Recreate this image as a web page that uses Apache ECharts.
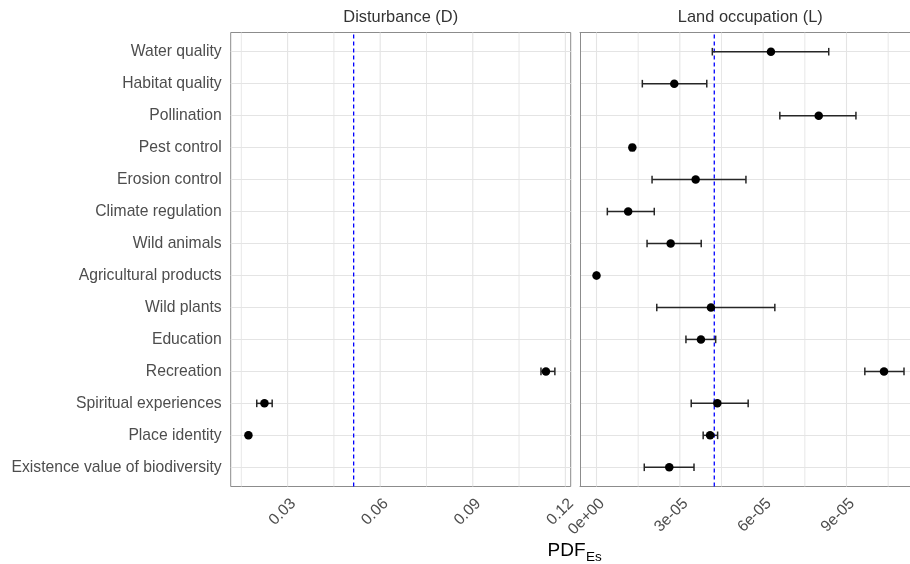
<!DOCTYPE html>
<html>
<head>
<meta charset="utf-8">
<script src="https://cdn.jsdelivr.net/npm/echarts@6/dist/echarts.min.js"></script>
<style>
html,body{margin:0;padding:0;background:#fff;}
#c{width:910px;height:564px;}
</style>
</head>
<body>
<div id="c"></div>
<script>
const categories = ["Water quality","Habitat quality","Pollination","Pest control","Erosion control","Climate regulation","Wild animals","Agricultural products","Wild plants","Education","Recreation","Spiritual experiences","Place identity","Existence value of biodiversity"];

// Disturbance (D)
const dMean = [null,null,null,null,null,null,null,null,null,null,0.1137,0.0225,0.0173,null];
const dLow  = [null,null,null,null,null,null,null,null,null,null,0.1121,0.0200,0.0170,null];
const dHigh = [null,null,null,null,null,null,null,null,null,null,0.1166,0.0250,0.0176,null];
const dRef = 0.0514;
const dTicks = [0.03,0.06,0.09,0.12];
const dMinorTicks = [0.015,0.045,0.075,0.105];

// Land occupation (L)
const lMean = [6.28e-5,2.80e-5,8.00e-5,1.29e-5,3.57e-5,1.14e-5,2.67e-5,0,4.12e-5,3.76e-5,1.035e-4,4.35e-5,4.09e-5,2.62e-5];
const lLow  = [4.17e-5,1.65e-5,6.60e-5,1.22e-5,2.00e-5,0.39e-5,1.82e-5,0,2.17e-5,3.22e-5,9.66e-5,3.41e-5,3.84e-5,1.72e-5];
const lHigh = [8.36e-5,3.97e-5,9.34e-5,1.36e-5,5.38e-5,2.08e-5,3.77e-5,0,6.42e-5,4.29e-5,1.107e-4,5.46e-5,4.36e-5,3.51e-5];
const lRef = 4.24e-5;
const lTicks = [0,3e-5,6e-5,9e-5];
const lMinorTicks = [1.5e-5,4.5e-5,7.5e-5,1.05e-4];

const dRange = [0.01156, 0.12173];
const lRange = [-5.94e-6, 1.1286e-4];

const FONT = '"Liberation Sans", Arial, sans-serif';
const GRID_COLOR = '#E4E4E4';
const BORDER = '#8c8c8c';

function sciLabel(v){
  const parts = Number(v).toExponential(0).split('e');
  const e = parts[1];
  const sign = e[0] === '-' ? '-' : '+';
  const digits = e.replace(/^[+-]/,'').padStart(2,'0');
  return parts[0] + 'e' + sign + digits;
}

function errData(lo, hi){
  const out = [];
  lo.forEach((v,i)=>{ if(v!=null && hi[i]!=null) out.push([v, hi[i], i]); });
  return out;
}
function ptData(m){
  const out = [];
  m.forEach((v,i)=>{ if(v!=null) out.push([v, i]); });
  return out;
}

function errRender(params, api){
  const y = api.value(2);
  const p1 = api.coord([api.value(0), y]);
  const p2 = api.coord([api.value(1), y]);
  const h = 3.8;
  const st = {stroke:'#262626', lineWidth:1.5};
  return {type:'group', children:[
    {type:'line', shape:{x1:p1[0],y1:p1[1],x2:p2[0],y2:p2[1]}, style:st},
    {type:'line', shape:{x1:p1[0],y1:p1[1]-h,x2:p1[0],y2:p1[1]+h}, style:st},
    {type:'line', shape:{x1:p2[0],y1:p2[1]-h,x2:p2[0],y2:p2[1]+h}, style:st}
  ]};
}
function vRender(width){
  return function(params, api){
    const v = api.value(0);
    const a = api.coord([v, 0]);
    const b = api.coord([v, 1]);
    return {type:'line', shape:{x1:a[0],y1:a[1],x2:b[0],y2:b[1]}, style:{stroke:GRID_COLOR, lineWidth:width}};
  };
}

const chart = echarts.init(document.getElementById('c'), null, {renderer:'canvas'});

const panelTop = 32.5, panelH = 454;
const dataTop = 51.7, dataH = 415.6;
const leftL = 230.7, leftW = 340;
const rightL = 580, rightW = 330;

const xLabel = {
  show:true, rotate:45, align:'right', verticalAlign:'top', margin:9,
  color:'#4D4D4D', fontSize:15.7, fontFamily:FONT
};
const borderLine = {show:true, onZero:false, lineStyle:{color:BORDER, width:1}};

const option = {
  animation:false,
  backgroundColor:'#fff',
  grid:[
    {left:leftL, top:panelTop, width:leftW, height:panelH, show:true, borderColor:BORDER, borderWidth:1, backgroundColor:'transparent', containLabel:false},
    {left:leftL, top:dataTop, width:leftW, height:dataH, containLabel:false},
    {left:rightL, top:panelTop, width:rightW, height:panelH, show:false, containLabel:false},
    {left:rightL, top:dataTop, width:rightW, height:dataH, containLabel:false}
  ],
  xAxis:[
    {gridIndex:0, type:'value', min:dRange[0], max:dRange[1],
     axisLine:{show:false}, axisTick:{show:false}, splitLine:{show:false},
     axisLabel:Object.assign({customValues:dTicks}, xLabel)},
    {gridIndex:1, type:'value', min:dRange[0], max:dRange[1], show:false},
    {gridIndex:2, type:'value', min:lRange[0], max:lRange[1], position:'bottom',
     axisLine:borderLine, axisTick:{show:false}, splitLine:{show:false},
     axisLabel:Object.assign({customValues:lTicks, formatter:sciLabel}, xLabel)},
    {gridIndex:3, type:'value', min:lRange[0], max:lRange[1], show:false},
    {gridIndex:2, type:'value', min:lRange[0], max:lRange[1], position:'top',
     axisLine:borderLine, axisTick:{show:false}, axisLabel:{show:false}, splitLine:{show:false}}
  ],
  yAxis:[
    {gridIndex:0, type:'value', min:0, max:1, show:false},
    {gridIndex:1, type:'category', data:categories, inverse:true, boundaryGap:false,
     axisLine:{show:false}, axisTick:{show:false},
     axisLabel:{interval:0, margin:9, color:'#4D4D4D', fontSize:15.7, fontFamily:FONT},
     splitLine:{show:true, interval:0, lineStyle:{color:GRID_COLOR, width:1.1}}},
    {gridIndex:2, type:'value', min:0, max:1, position:'left',
     axisLine:borderLine, axisTick:{show:false}, axisLabel:{show:false}, splitLine:{show:false}},
    {gridIndex:3, type:'category', data:categories, inverse:true, boundaryGap:false,
     axisLine:{show:false}, axisTick:{show:false}, axisLabel:{show:false},
     splitLine:{show:true, interval:0, lineStyle:{color:GRID_COLOR, width:1.1}}}
  ],
  series:[
    {type:'custom', xAxisIndex:0, yAxisIndex:0, data:dMinorTicks.map(v=>[v]), renderItem:vRender(0.9), encode:{x:0}, silent:true, z:1},
    {type:'custom', xAxisIndex:0, yAxisIndex:0, data:dTicks.map(v=>[v]), renderItem:vRender(1.1), encode:{x:0}, silent:true, z:1},
    {type:'custom', xAxisIndex:2, yAxisIndex:2, data:lMinorTicks.map(v=>[v]), renderItem:vRender(0.9), encode:{x:0}, silent:true, z:1},
    {type:'custom', xAxisIndex:2, yAxisIndex:2, data:lTicks.map(v=>[v]), renderItem:vRender(1.1), encode:{x:0}, silent:true, z:1},
    {type:'line', xAxisIndex:0, yAxisIndex:0, data:[[dRef,0],[dRef,1]], symbol:'none', silent:true, z:2,
     lineStyle:{color:'#0000ff', width:1.3, type:[4,3]}},
    {type:'line', xAxisIndex:2, yAxisIndex:2, data:[[lRef,0],[lRef,1]], symbol:'none', silent:true, z:2,
     lineStyle:{color:'#0000ff', width:1.3, type:[4,3]}},
    {type:'custom', xAxisIndex:1, yAxisIndex:1, data:errData(dLow,dHigh), renderItem:errRender, encode:{x:[0,1], y:2}, z:3, silent:true},
    {type:'custom', xAxisIndex:3, yAxisIndex:3, data:errData(lLow,lHigh), renderItem:errRender, encode:{x:[0,1], y:2}, z:3, silent:true},
    {type:'scatter', xAxisIndex:1, yAxisIndex:1, data:ptData(dMean), symbolSize:8.5, itemStyle:{color:'#000', opacity:1}, z:4, silent:true},
    {type:'scatter', xAxisIndex:3, yAxisIndex:3, data:ptData(lMean), symbolSize:8.5, itemStyle:{color:'#000', opacity:1}, z:4, silent:true}
  ],
  graphic:[
    {type:'text', x:400.7, y:17.5, style:{text:'Disturbance (D)', fontSize:16.4, fontFamily:FONT, fill:'#333', align:'center', verticalAlign:'middle'}},
    {type:'text', x:750.3, y:17.5, style:{text:'Land occupation (L)', fontSize:16.4, fontFamily:FONT, fill:'#333', align:'center', verticalAlign:'middle'}},
    {type:'text', x:585.5, y:551, style:{text:'PDF', fontSize:19, fontFamily:FONT, fill:'#000', align:'right', verticalAlign:'middle'}},
    {type:'text', x:586, y:557, style:{text:'Es', fontSize:13.5, fontFamily:FONT, fill:'#000', align:'left', verticalAlign:'middle'}}
  ]
};
chart.setOption(option);
</script>
</body>
</html>
